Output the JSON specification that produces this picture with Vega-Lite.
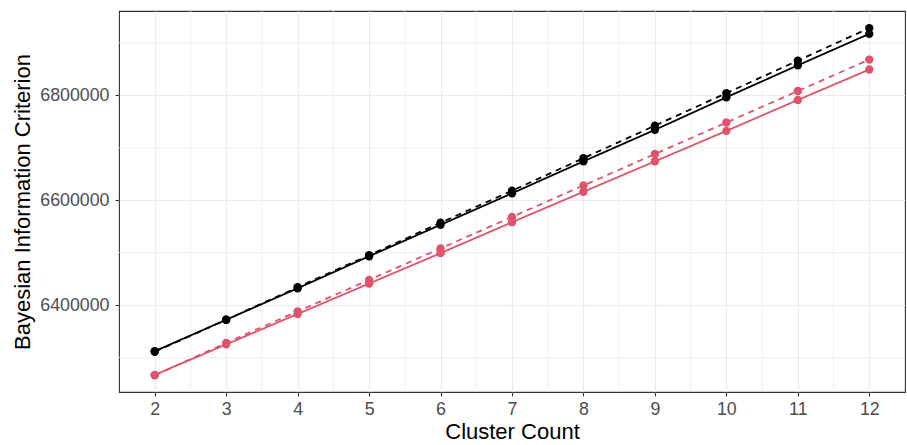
{
  "$schema": "https://vega.github.io/schema/vega-lite/v6.json",
  "width": 786,
  "height": 381,
  "autosize": {"type": "none"},
  "padding": {"left": 119, "top": 11, "right": 2, "bottom": 53},
  "background": "white",
  "config": {
    "font": "Liberation Sans",
    "view": {"stroke": "#333333", "strokeWidth": 1.1},
    "axis": {
      "domain": false,
      "grid": true,
      "gridColor": "#EBEBEB",
      "gridWidth": 1.1,
      "tickColor": "#333333",
      "tickWidth": 1.1,
      "tickSize": 4,
      "labelColor": "#4D4D4D",
      "labelFontSize": 17.8,
      "labelFont": "Liberation Sans",
      "titleFont": "Liberation Sans",
      "titleFontSize": 22,
      "titleFontWeight": "normal",
      "titleColor": "#000000"
    }
  },
  "datasets": {
    "bic": [
      {"k": 2, "group": "g1", "linetype": "solid", "bic": 6312000},
      {"k": 3, "group": "g1", "linetype": "solid", "bic": 6372000},
      {"k": 4, "group": "g1", "linetype": "solid", "bic": 6432000},
      {"k": 5, "group": "g1", "linetype": "solid", "bic": 6493000},
      {"k": 6, "group": "g1", "linetype": "solid", "bic": 6553000},
      {"k": 7, "group": "g1", "linetype": "solid", "bic": 6613000},
      {"k": 8, "group": "g1", "linetype": "solid", "bic": 6674000},
      {"k": 9, "group": "g1", "linetype": "solid", "bic": 6734000},
      {"k": 10, "group": "g1", "linetype": "solid", "bic": 6796000},
      {"k": 11, "group": "g1", "linetype": "solid", "bic": 6857000},
      {"k": 12, "group": "g1", "linetype": "solid", "bic": 6917000},
      {"k": 2, "group": "g1", "linetype": "dashed", "bic": 6311000},
      {"k": 3, "group": "g1", "linetype": "dashed", "bic": 6372000},
      {"k": 4, "group": "g1", "linetype": "dashed", "bic": 6434000},
      {"k": 5, "group": "g1", "linetype": "dashed", "bic": 6495000},
      {"k": 6, "group": "g1", "linetype": "dashed", "bic": 6557000},
      {"k": 7, "group": "g1", "linetype": "dashed", "bic": 6618000},
      {"k": 8, "group": "g1", "linetype": "dashed", "bic": 6680000},
      {"k": 9, "group": "g1", "linetype": "dashed", "bic": 6742000},
      {"k": 10, "group": "g1", "linetype": "dashed", "bic": 6804000},
      {"k": 11, "group": "g1", "linetype": "dashed", "bic": 6866000},
      {"k": 12, "group": "g1", "linetype": "dashed", "bic": 6928000},
      {"k": 2, "group": "g2", "linetype": "solid", "bic": 6267000},
      {"k": 3, "group": "g2", "linetype": "solid", "bic": 6325000},
      {"k": 4, "group": "g2", "linetype": "solid", "bic": 6383000},
      {"k": 5, "group": "g2", "linetype": "solid", "bic": 6441000},
      {"k": 6, "group": "g2", "linetype": "solid", "bic": 6499000},
      {"k": 7, "group": "g2", "linetype": "solid", "bic": 6558000},
      {"k": 8, "group": "g2", "linetype": "solid", "bic": 6616000},
      {"k": 9, "group": "g2", "linetype": "solid", "bic": 6674000},
      {"k": 10, "group": "g2", "linetype": "solid", "bic": 6732000},
      {"k": 11, "group": "g2", "linetype": "solid", "bic": 6791000},
      {"k": 12, "group": "g2", "linetype": "solid", "bic": 6849000},
      {"k": 2, "group": "g2", "linetype": "dashed", "bic": 6266000},
      {"k": 3, "group": "g2", "linetype": "dashed", "bic": 6328000},
      {"k": 4, "group": "g2", "linetype": "dashed", "bic": 6388000},
      {"k": 5, "group": "g2", "linetype": "dashed", "bic": 6448000},
      {"k": 6, "group": "g2", "linetype": "dashed", "bic": 6508000},
      {"k": 7, "group": "g2", "linetype": "dashed", "bic": 6568000},
      {"k": 8, "group": "g2", "linetype": "dashed", "bic": 6628000},
      {"k": 9, "group": "g2", "linetype": "dashed", "bic": 6688000},
      {"k": 10, "group": "g2", "linetype": "dashed", "bic": 6748000},
      {"k": 11, "group": "g2", "linetype": "dashed", "bic": 6808000},
      {"k": 12, "group": "g2", "linetype": "dashed", "bic": 6868000}
    ],
    "minorx": [
      {"k": 2.5}, {"k": 3.5}, {"k": 4.5}, {"k": 5.5}, {"k": 6.5},
      {"k": 7.5}, {"k": 8.5}, {"k": 9.5}, {"k": 10.5}, {"k": 11.5}
    ],
    "minory": [
      {"bic": 6300000}, {"bic": 6500000}, {"bic": 6700000}, {"bic": 6900000}
    ]
  },
  "encoding": {
    "x": {
      "field": "k",
      "type": "quantitative",
      "title": "Cluster Count",
      "scale": {"domain": [1.5, 12.5], "nice": false, "zero": false},
      "axis": {"values": [2, 3, 4, 5, 6, 7, 8, 9, 10, 11, 12], "format": "d", "labelPadding": 4, "titlePadding": 4}
    },
    "y": {
      "field": "bic",
      "type": "quantitative",
      "title": "Bayesian Information Criterion",
      "scale": {"domain": [6234286, 6960571], "nice": false, "zero": false},
      "axis": {"values": [6400000, 6600000, 6800000], "format": "d", "labelPadding": 6, "titlePadding": 5}
    }
  },
  "layer": [
    {
      "data": {"name": "minorx"},
      "mark": {"type": "rule", "color": "#EBEBEB", "strokeWidth": 0.75},
      "encoding": {"y": null}
    },
    {
      "data": {"name": "minory"},
      "mark": {"type": "rule", "color": "#EBEBEB", "strokeWidth": 0.75},
      "encoding": {"x": null}
    },
    {
      "data": {"name": "bic"},
      "mark": {"type": "line", "strokeWidth": 1.8},
      "encoding": {
        "color": {"field": "group", "type": "nominal", "scale": {"domain": ["g1", "g2"], "range": ["#000000", "#DF536B"]}, "legend": null},
        "strokeDash": {"field": "linetype", "type": "nominal", "scale": {"domain": ["solid", "dashed"], "range": [[1, 0], [6, 5]]}, "legend": null},
        "detail": {"field": "linetype"}
      }
    },
    {
      "data": {"name": "bic"},
      "mark": {"type": "point", "filled": true, "size": 70, "opacity": 1},
      "encoding": {
        "color": {"field": "group", "type": "nominal", "scale": {"domain": ["g1", "g2"], "range": ["#000000", "#DF536B"]}, "legend": null}
      }
    }
  ]
}
